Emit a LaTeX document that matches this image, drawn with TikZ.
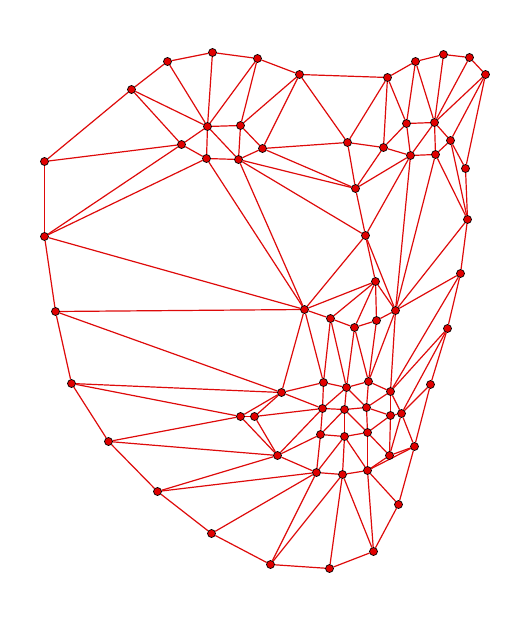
\documentclass[tikz,border=0pt]{standalone}
\usetikzlibrary{backgrounds}
\definecolor{edgered}{RGB}{222,10,10}
\definecolor{ptred}{RGB}{225,0,0}
\tikzset{
  pt/.style={circle, fill=ptred, draw=black, line width=0.7pt, inner sep=0pt, minimum size=8pt},
  edge/.style={draw=edgered, line width=1.2pt}
}
\begin{document}
\begin{tikzpicture}[x=1pt,y=-1pt]
\useasboundingbox (0,0) rectangle (528,620);
\foreach \i/\x/\y in {
1/167/61, 2/212/52, 3/257/58, 4/299/74, 5/387/77, 6/415/61, 7/443/54, 8/469/57, 9/485/74,
10/131/89, 11/207/126, 12/240/125, 13/262/148, 14/181/144, 15/206/158, 16/238/159, 17/44/161,
18/347/142, 19/383/147, 20/406/123, 21/434/122, 22/450/140, 23/410/155, 24/435/154, 25/465/168,
26/355/188, 27/365/235, 28/467/219, 29/44/236, 30/375/281, 31/460/273, 32/304/309, 33/330/318,
34/354/327, 35/376/320, 36/395/310, 37/55/311, 38/447/328, 39/71/383, 40/281/392, 41/323/382,
42/346/387, 43/368/381, 44/390/391, 45/430/384, 46/240/416, 47/254/416, 48/322/408, 49/344/409,
50/366/407, 51/390/415, 52/401/413, 53/108/441, 54/277/455, 55/320/434, 56/344/436, 57/367/432,
58/389/455, 59/414/446, 60/316/472, 61/342/474, 62/367/470, 63/157/491, 64/398/504, 65/211/533,
66/270/564, 67/329/568, 68/373/551}
  \node[pt] (n\i) at (\x+0.5,\y+0.5) {};
\begin{pgfonlayer}{background}
\foreach \a/\b in {
1/2, 1/10, 1/11, 2/3, 2/11, 3/4, 3/11, 3/12, 4/12, 4/13, 4/18, 4/5,
5/6, 6/7, 7/8, 8/9, 5/18, 5/19, 5/20, 6/20, 6/21, 7/21, 8/21, 9/21, 9/22, 9/25,
10/17, 10/11, 10/14, 11/12, 11/14, 11/15, 11/16, 12/16, 12/13, 13/16, 13/18, 13/26,
14/15, 14/17, 14/29, 15/16, 15/29, 15/32, 16/32, 16/26, 16/27, 17/29,
18/19, 18/26, 19/20, 19/23, 19/26, 20/21, 20/23, 21/23, 21/22, 21/24, 22/24, 22/25, 22/28,
23/24, 23/26, 23/27, 23/36, 24/36, 24/28, 25/28,
26/27, 27/30, 27/32, 27/36, 28/31, 28/36,
29/32, 29/37, 30/32, 30/33, 30/34, 30/35, 30/36, 31/36, 31/38, 31/44,
32/33, 32/37, 32/40, 32/41, 33/34, 33/41, 33/42, 34/35, 34/42, 34/43, 35/36, 35/43, 36/43, 36/44,
37/39, 37/40, 38/44, 38/45, 38/52,
39/40, 39/46, 39/53,
40/41, 40/46, 40/47, 40/48, 41/42, 41/48, 42/43, 42/48, 42/49, 42/50, 43/44, 43/50, 44/50, 44/51, 44/52, 45/52, 45/59,
46/47, 46/53, 46/54, 47/48, 47/54, 48/49, 48/55, 48/54, 49/50, 49/55, 49/56, 49/57, 50/51, 50/57, 51/52, 51/57, 51/58, 52/58, 52/59,
53/54, 53/63,
54/55, 54/60, 54/63, 55/56, 55/60, 56/57, 56/60, 56/61, 56/62, 57/62, 57/58, 58/62, 58/59, 59/62, 59/64,
60/61, 60/63, 60/65, 60/66, 61/62, 61/66, 61/67, 61/68, 62/68, 62/64, 64/68, 63/65, 65/66, 66/67, 67/68}
  \draw[edge] (n\a) -- (n\b);
\end{pgfonlayer}
\end{tikzpicture}
\end{document}
